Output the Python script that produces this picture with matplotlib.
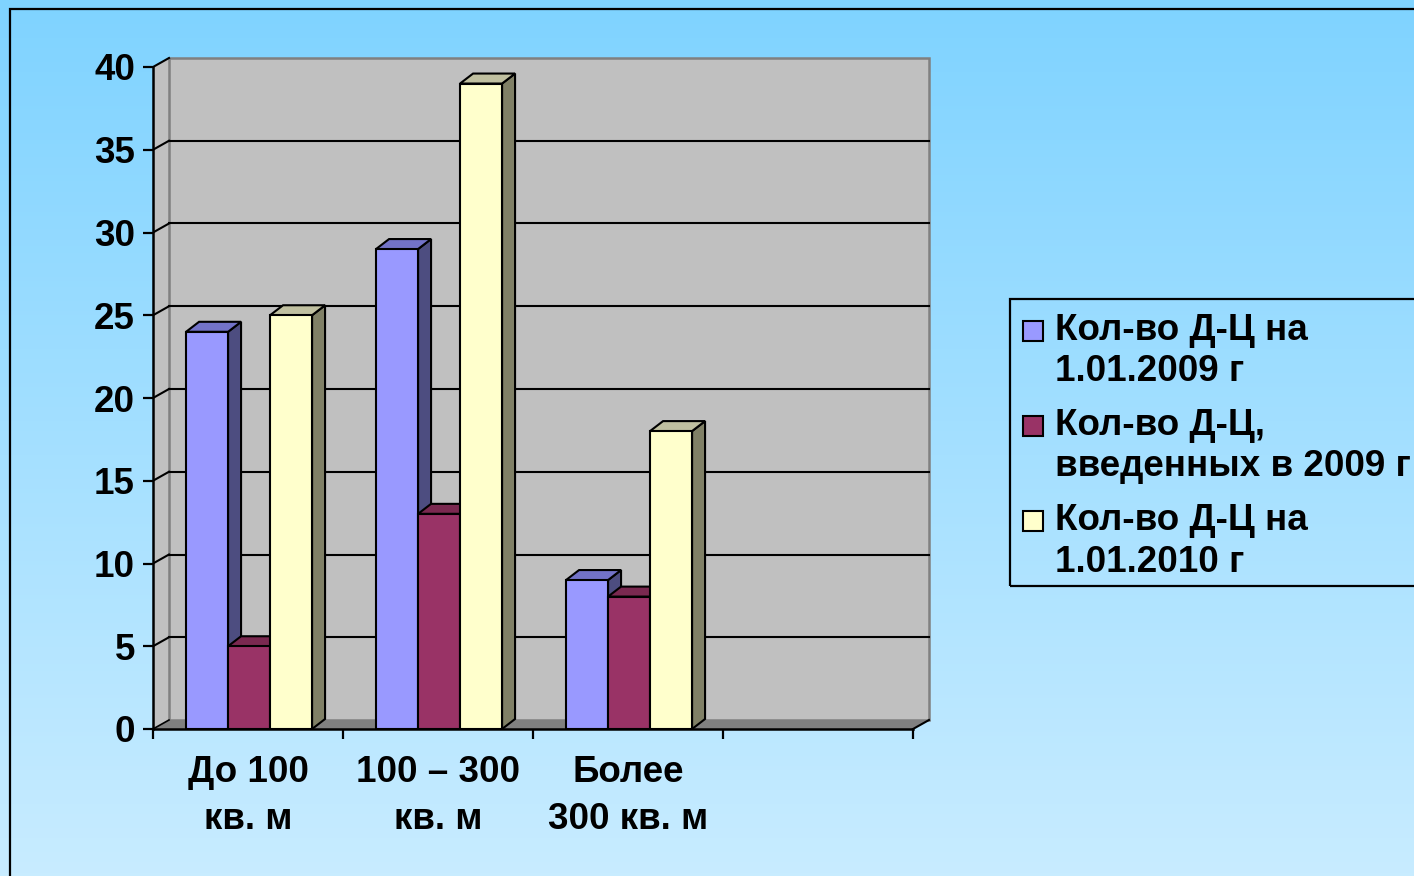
import numpy as np
import matplotlib
matplotlib.use('Agg')
import matplotlib.pyplot as plt
from matplotlib.patches import Rectangle, Polygon

plt.rcParams['font.family'] = ['Liberation Sans', 'DejaVu Sans']
plt.rcParams['font.weight'] = 'bold'

# chart data
categories = ['До 100\nкв. м', '100 – 300\nкв. м', 'Более\n300 кв. м']
series_names = ['Кол-во Д-Ц на\n1.01.2009 г',
                'Кол-во Д-Ц,\nвведенных в 2009 г',
                'Кол-во Д-Ц на\n1.01.2010 г']
values_2009 = [24, 29, 9]
values_new = [5, 13, 8]
values_2010 = [25, 39, 18]
y_ticks = [0, 5, 10, 15, 20, 25, 30, 35, 40]
n_slots = 4  # excel left an empty 4th category slot

# colours: front, side, top
colors = [('#9999FF', '#4D4D80', '#7373C8'),
          ('#993366', '#4D1A33', '#7A2950'),
          ('#FFFFCC', '#808066', '#C0C0A0')]

W, H = 1414, 876
PX_X = 190.0    # pixels per category
PX_Y = 16.55    # pixels per value unit
FS = 26.5


def fx(x):
    return x / W


def fy(y):
    return 1 - y / H


fig = plt.figure(figsize=(W / 100, H / 100), dpi=100)

# gradient background
bg = fig.add_axes([0, 0, 1, 1])
top = np.array([0x7F, 0xD3, 0xFF]) / 255
bot = np.array([0xC8, 0xEC, 0xFF]) / 255
t = np.linspace(0, 1, 256)[:, None]
grad = top[None, None, :] * (1 - t[:, :, None]) + bot[None, None, :] * t[:, :, None]
grad = np.repeat(grad, 4, axis=1)
bg.imshow(grad, aspect='auto', extent=[0, 1, 0, 1])
bg.set_axis_off()

fig.add_artist(Rectangle((fx(10), fy(880)), fx(1420 - 10), fy(9) - fy(880),
                         transform=fig.transFigure, fill=False,
                         edgecolor='black', linewidth=1.6))

# main axes: x 0 -> px 153, y 0 -> px 729
xmax, ymax = 4.15, 41
ax = fig.add_axes([fx(153), fy(729), xmax * PX_X / W, ymax * PX_Y / H])
ax.set_xlim(0, xmax)
ax.set_ylim(0, ymax)
ax.patch.set_visible(False)

wdx, wdy = 16 / PX_X, 9 / PX_Y      # wall depth
bdx, bdy = 13 / PX_X, 10 / PX_Y     # bar depth
ytop = y_ticks[-1]

# side wall, back wall, floor
ax.add_patch(Polygon([(0, 0), (wdx, wdy), (wdx, ytop + wdy), (0, ytop)],
                     facecolor='#C0C0C0', edgecolor='none', zorder=1))
ax.add_patch(Rectangle((wdx, wdy), n_slots, ytop, facecolor='#C0C0C0',
                       edgecolor='#808080', linewidth=1.8, zorder=1))
ax.add_patch(Polygon([(0, 0), (n_slots, 0), (n_slots + wdx, wdy), (wdx, wdy)],
                     facecolor='#808080', edgecolor='none', zorder=2))
ax.plot([n_slots, n_slots + wdx], [0, wdy], color='black', lw=1.5, zorder=2)
ax.plot([0, wdx], [0, wdy], color='black', lw=1.2, zorder=2)

for v in y_ticks[1:]:
    if v < ytop:
        ax.plot([wdx, n_slots + wdx], [v + wdy, v + wdy], color='black', lw=1.5, zorder=1.5)
    ax.plot([0, wdx], [v, v + wdy], color='black', lw=1.5, zorder=1.5)

# bars
series = [values_2009, values_new, values_2010]
bar_w = 42 / PX_X
offset = 0.174
z = 3
for i in range(len(categories)):
    for s, vals in enumerate(series):
        v = vals[i]
        x0 = i + offset + s * bar_w
        x1 = x0 + bar_w
        front, side, topc = colors[s]
        ax.add_patch(Polygon([(x1, 0), (x1 + bdx, bdy), (x1 + bdx, v + bdy), (x1, v)],
                             facecolor=side, edgecolor='black', linewidth=1.5, zorder=z))
        ax.add_patch(Polygon([(x0, v), (x0 + bdx, v + bdy), (x1 + bdx, v + bdy), (x1, v)],
                             facecolor=topc, edgecolor='black', linewidth=1.5, zorder=z))
        ax.add_patch(Rectangle((x0, 0), bar_w, v, facecolor=front,
                               edgecolor='black', linewidth=1.5, zorder=z + 0.5))
        z += 1

# axes lines and ticks
for name in ['top', 'right']:
    ax.spines[name].set_visible(False)
ax.spines['left'].set_bounds(0, ytop)
ax.spines['bottom'].set_bounds(0, n_slots)
for name in ['left', 'bottom']:
    ax.spines[name].set_linewidth(1.8)
    ax.spines[name].set_zorder(20)

ax.set_yticks(y_ticks)
ax.set_yticklabels([str(v) for v in y_ticks], fontsize=FS, fontweight='bold')
ax.tick_params(axis='y', length=7, width=1.6, pad=6)

ax.set_xticks(range(n_slots + 1))
ax.set_xticklabels([])
ax.tick_params(axis='x', which='major', length=7, width=1.6, direction='out')
ax.set_xticks([i + 0.5 for i in range(len(categories))], minor=True)
ax.set_xticklabels(categories, minor=True, fontsize=FS, fontweight='bold', linespacing=1.42)
ax.tick_params(axis='x', which='minor', length=0, pad=19)

# legend
fig.add_artist(Rectangle((fx(1010), fy(586)), fx(1440 - 1010), fy(299) - fy(586),
                         transform=fig.transFigure, fill=False,
                         edgecolor='black', linewidth=1.6, zorder=10))
for s, name in enumerate(series_names):
    yc = 331 + s * 95
    fig.add_artist(Rectangle((fx(1023), fy(yc + 10)), fx(20), fy(yc - 10) - fy(yc + 10),
                             transform=fig.transFigure, facecolor=colors[s][0],
                             edgecolor='black', linewidth=1.5, zorder=10))
    for j, line in enumerate(name.split('\n')):
        fig.text(fx(1055), fy(yc + j * 41), line, fontsize=FS, fontweight='bold',
                 va='center', ha='left')

fig.savefig('out.png', dpi=100)
